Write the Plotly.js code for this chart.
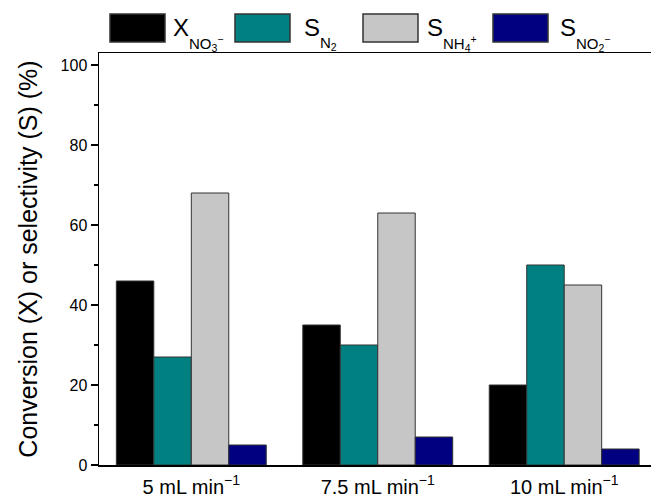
<!DOCTYPE html>
<html>
<head>
<meta charset="utf-8">
<script src="https://cdn.plot.ly/plotly-3.0.1.min.js"></script>
<style>html,body{margin:0;padding:0;background:#fff;}#chart{width:651px;height:497px;}</style>
</head>
<body>
<div id="chart"></div>
<script>
// ---- data ----
const categories = ['5 mL min<sup>−1</sup>', '7.5 mL min<sup>−1</sup>', '10 mL min<sup>−1</sup>'];
const X_NO3 = [46, 35, 20];
const S_N2 = [27, 30, 50];
const S_NH4 = [68, 63, 45];
const S_NO2 = [5, 7, 4];
const seriesNames = ['X NO3-', 'S N2', 'S NH4+', 'S NO2-'];
const legendMain = ['X', 'S', 'S', 'S'];
const legendSub = ['NO<sub>3</sub><sup>−</sup>', 'N<sub>2</sub>', 'NH<sub>4</sub><sup>+</sup>', 'NO<sub>2</sub><sup>−</sup>'];
const yTicks = [0, 20, 40, 60, 80, 100];

// ---- styles ----
const colors = ['#000000', '#008080', '#c6c6c6', '#000080'];
const W = 651, H = 497, M = {l: 99, r: 0, t: 53, b: 32};
const pw = W - M.l - M.r, ph = H - M.t - M.b;
const px = x => (x - M.l) / pw;
const py = y => (H - M.b - y) / ph;
const FONT = 'Liberation Sans, Arial, sans-serif';

const allSeries = [X_NO3, S_N2, S_NH4, S_NO2];
const traces = allSeries.map((vals, i) => ({
  type: 'bar', x: categories, y: vals, name: seriesNames[i],
  marker: {color: colors[i], line: {color: '#333', width: 1}},
  showlegend: false, hoverinfo: 'x+y+name'
}));

const swatchLeft = [110, 235, 363, 493];
const textLeft = [171, 302, 425, 558];
const shapes = swatchLeft.map((x0, i) => ({
  type: 'rect', xref: 'paper', yref: 'paper',
  x0: px(x0), x1: px(x0 + 55), y0: py(42), y1: py(14),
  fillcolor: colors[i], line: {color: '#333', width: 1.5}
}));
const annotations = [];
legendMain.forEach((t, i) => {
  annotations.push({xref: 'paper', yref: 'paper', x: px(textLeft[i]), y: py(28), xanchor: 'left', yanchor: 'middle',
    text: t, showarrow: false, font: {family: FONT, size: 24, color: '#000'}});
  annotations.push({xref: 'paper', yref: 'paper', x: px(textLeft[i] + 16), y: py(43), xanchor: 'left', yanchor: 'middle',
    text: legendSub[i], showarrow: false, font: {family: FONT, size: 15, color: '#000'}});
});

const layout = {
  width: W, height: H,
  margin: M,
  paper_bgcolor: '#fff', plot_bgcolor: '#fff',
  font: {family: FONT, color: '#000'},
  barmode: 'group', bargap: 0.196, bargroupgap: 0,
  xaxis: {
    type: 'category', range: [-0.495, 2.4655],
    showline: true, linecolor: '#000', linewidth: 1.5, mirror: true,
    ticks: '', showgrid: false, zeroline: false, ticklabelstandoff: 3,
    tickfont: {family: FONT, size: 20, color: '#000'}
  },
  yaxis: {
    range: [0, 103], tickvals: yTicks, ticktext: yTicks.map(String),
    showline: true, linecolor: '#000', linewidth: 1.5,
    ticks: 'outside', ticklen: 7, tickwidth: 1.5, tickcolor: '#000',
    minor: {dtick: 10, ticks: 'outside', ticklen: 4, tickwidth: 1.5, tickcolor: '#000', showgrid: false},
    showgrid: false, zeroline: false,
    tickfont: {family: FONT, size: 16, color: '#000'},
    title: {text: 'Conversion (X) or selectivity (S) (%)', font: {family: FONT, size: 25, color: '#000'}, standoff: 16}
  },
  shapes: shapes,
  annotations: annotations
};

Plotly.newPlot('chart', traces, layout, {displayModeBar: false, staticPlot: true});
</script>
</body>
</html>
